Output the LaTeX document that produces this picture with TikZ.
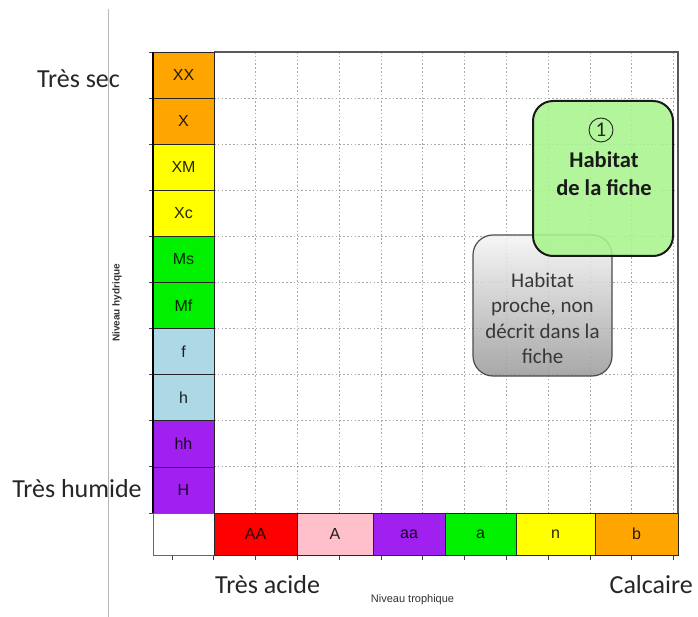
\documentclass[tikz,border=0pt]{standalone}
\usepackage{fontspec}
\setmainfont{Carlito}
\newfontfamily\arialf{Liberation Sans}
\definecolor{cOrange}{HTML}{FFA500}
\definecolor{cYellow}{HTML}{FFFF00}
\definecolor{cGreen}{HTML}{00F000}
\definecolor{cBlue}{HTML}{ADD8E6}
\definecolor{cPurple}{HTML}{A020F0}
\definecolor{cRed}{HTML}{FF0000}
\definecolor{cPink}{HTML}{FFC0CB}
\definecolor{boxGreen}{HTML}{A9F48D}
\definecolor{gridGray}{HTML}{A8A8A8}
\begin{document}
\begin{tikzpicture}[x=1pt,y=-1pt,
  cell/.style={draw=black!85, line width=0.8pt, inner sep=0pt, outer sep=0pt,
    fill=#1, font=\arialf\fontsize{16}{18}\selectfont, text=black, text opacity=0.85},
  colcell/.style={cell=#1, minimum width=61pt, minimum height=46.1pt},
  rowcell/.style={cell=#1, minimum height=42pt},
  bigtext/.style={font=\fontsize{26}{30}\selectfont, text=black!85, inner sep=0pt},
  axtext/.style={font=\arialf\fontsize{10}{12}\selectfont, text=black!80, inner sep=0pt},
  gridline/.style={gridGray, line width=0.9pt, dash pattern=on 1.6pt off 2.2pt},
  graybox/.style={draw=black!70, line width=1.2pt, rounded corners=20pt,
    top color=black!4, bottom color=black!40, fill opacity=0.85, inner sep=0pt},
  greenbox/.style={draw=black!90, line width=2pt, rounded corners=20pt,
    fill=boxGreen, fill opacity=0.88, inner sep=0pt},
  graytext/.style={font=\fontsize{21}{25.5}\selectfont, text=black!78, align=center, inner sep=0pt},
  greentext/.style={font=\bfseries\fontsize{22.5}{28}\selectfont, text=black!90, align=center, inner sep=0pt},
  numcircle/.style={circle, draw=black!85, line width=0.9pt, minimum size=24pt, inner sep=0pt,
    font=\fontsize{21}{21}\selectfont, text=black!85}
]
\useasboundingbox (0,0) rectangle (698,617);
\fill[white] (0,0) rectangle (698,617);

% separator line
\draw[black!28, line width=0.9pt] (108,9) -- (108,617);

% grid
\foreach \k in {0,...,12} {
  \draw[gridline] ({172+41.8*\k},52) -- ({172+41.8*\k},555);
}
\foreach \k in {1,...,9} {
  \draw[gridline] (214,{52+46.1*\k}) -- (678,{52+46.1*\k});
}

% frame
\draw[black!65, line width=1.3pt] (214,52) -- (678,52) -- (678,513);

% ticks
\foreach \k in {0,...,12} {
  \draw[black!75, line width=0.9pt] ({172+41.8*\k},555) -- ({172+41.8*\k},560);
}
\foreach \k in {0,...,10} {
  \draw[black!75, line width=0.9pt] (149,{52+46.1*\k}) -- (153,{52+46.1*\k});
}

% column of water levels
\node[colcell=cOrange] (XX) at (183.5,75.05) {XX};
\node[colcell=cOrange] (X) at (183.5,121.15) {X};
\node[colcell=cYellow] (XM) at (183.5,167.25) {XM};
\node[colcell=cYellow] (Xc) at (183.5,213.35) {Xc};
\node[colcell=cGreen] (Ms) at (183.5,259.45) {Ms};
\node[colcell=cGreen] (Mf) at (183.5,305.55) {Mf};
\node[colcell=cBlue] (f) at (183.5,351.65) {f};
\node[colcell=cBlue] (h) at (183.5,397.75) {h};
\node[colcell=cPurple] (hh) at (183.5,443.85) {hh};
\node[colcell=cPurple] (H) at (183.5,489.95) {H};
\draw[black, line width=2pt] (153,52) -- (153,513);

% row of trophic levels
\node[rowcell=white, minimum width=61pt, draw=black!60] (corner) at (183.5,534) {};
\node[rowcell=cRed, minimum width=83pt] (AA) at (255.5,534) {AA};
\node[rowcell=cPink, minimum width=76pt] (A) at (335,534) {A};
\node[rowcell=cPurple, minimum width=72pt] (aa) at (409,534) {aa};
\node[rowcell=cGreen, minimum width=71pt] (a) at (480.5,534) {a};
\node[rowcell=cYellow, minimum width=79pt] (n) at (555.5,534) {n};
\node[rowcell=cOrange, minimum width=83pt] (b) at (636.5,534) {b};

% habitat boxes
\node[graybox, minimum width=139pt, minimum height=141pt] (proche) at (542.5,305.5) {};
\node[graytext] (prochetxt) at (542.5,318.5) {Habitat\\proche, non\\décrit dans la\\fiche};
\node[greenbox, minimum width=140pt, minimum height=155pt] (fiche) at (603,178.5) {};
\node[numcircle] (num) at (601,130) {1};
\node[greentext] (fichetxt) at (604,174) {Habitat\\de la fiche};

% axis texts
\node[bigtext, anchor=base] (sec) at (78.5,88) {Très sec};
\node[bigtext, anchor=base] (humide) at (77,497) {Très humide};
\node[bigtext, anchor=base west] (acide) at (215,593) {Très acide};
\node[bigtext, anchor=base east] (calc) at (693,593) {Calcaire};
\node[axtext, font=\arialf\bfseries\fontsize{10}{12}\selectfont, rotate=90] (hyd) at (117,303) {Niveau hydrique};
\node[axtext, font=\arialf\fontsize{11}{12}\selectfont] (tro) at (412.5,600) {Niveau trophique};
\end{tikzpicture}
\end{document}
